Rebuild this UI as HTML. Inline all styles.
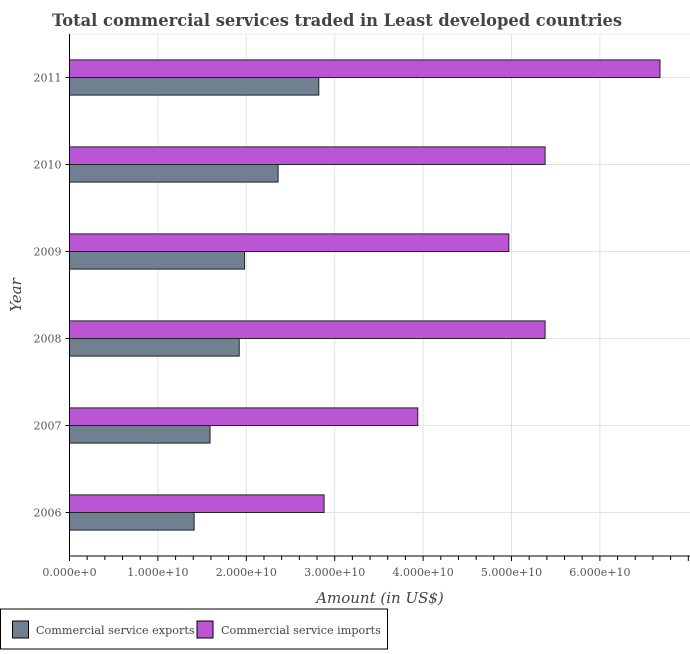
<!DOCTYPE html>
<html><head><meta charset="utf-8"><style>
body{margin:0;background:#fff;font-family:"DejaVu Serif","Liberation Serif",serif;}
svg text{font-family:"DejaVu Serif","Liberation Serif",serif;}
</style></head><body>
<svg id="chart" width="690" height="650">
<text x="52" y="26" font-size="16.3" font-weight="bold" fill="#444">Total commercial services traded in Least developed countries</text>
<g id="grid"></g><g id="bars"></g><g id="axes"></g>
<text x="0" y="0" transform="translate(21,295) rotate(-90)" text-anchor="middle" font-size="15" font-style="italic" fill="#444">Year</text>
<text x="380" y="603" text-anchor="middle" font-size="15" font-style="italic" fill="#444">Amount (in US$)</text>
<g>
<rect x="0.5" y="609" width="387" height="40" fill="#fff" stroke="#000"/>
<rect x="12.5" y="621" width="16" height="17" fill="#708090" stroke="#000"/>
<text x="36" y="634" font-size="11.2" fill="#444">Commercial service exports</text>
<rect x="197" y="621" width="16" height="17" fill="#ba55d3" stroke="#000"/>
<text x="221" y="634" font-size="11.2" fill="#444">Commercial service imports</text>
</g>
</svg>
<script>
const years=["2006","2007","2008","2009","2010","2011"];
const exportsVals=[1.41e10,1.59e10,1.92e10,1.98e10,2.36e10,2.82e10];
const importsVals=[2.88e10,3.94e10,5.38e10,4.97e10,5.38e10,6.68e10];
const xTicks=[0,1e10,2e10,3e10,4e10,5e10,6e10];
const xTickLabels=["0.000e+0","1.000e+10","2.000e+10","3.000e+10","4.000e+10","5.000e+10","6.000e+10"];
const NS="http://www.w3.org/2000/svg";
const X0=69.5,PX=88.4e-10,TOP=34,BOT=556,RIGHT=690;
function xs(v){return X0+v*PX;}
const band=(BOT-TOP)/years.length;
function ys(i){return BOT-band*(i+0.5);}
function mk(tag,a,p){const e=document.createElementNS(NS,tag);for(const k in a)e.setAttribute(k,a[k]);p.appendChild(e);return e;}
const grid=document.getElementById('grid'),bars=document.getElementById('bars'),axes=document.getElementById('axes');
xTicks.forEach((t,i)=>{
 const g=mk('line',{x1:xs(t),x2:xs(t),y1:TOP,y2:BOT,stroke:'#e2e2e2'},grid);
 
 
 const tl=mk('text',{x:xs(t),y:576,'text-anchor':'middle','font-size':'11','fill':'#555'},axes);
 tl.textContent=xTickLabels[i];
 
 
});
for(let v=0;xs(v)<=RIGHT;v+=2e9){
 const t=mk('line',{x1:xs(v),x2:xs(v),y1:BOT,y2:BOT+(Math.round(v/2e9)%5===0?5:4),stroke:'#000'},axes);
 
 
}
mk('line',{x1:X0,x2:RIGHT,y1:TOP,y2:TOP,stroke:'#eee'},grid);
years.forEach((y,i)=>{
 const cy=ys(i);
 const g=mk('line',{x1:X0,x2:RIGHT,y1:cy,y2:cy,stroke:'#e2e2e2'},grid);
 
 
 const bi=mk('rect',{x:X0,y:cy-17.6,width:xs(importsVals[i])-X0,height:17.6,fill:'#ba55d3',stroke:'#222','stroke-width':1},bars);
 
 
 const be=mk('rect',{x:X0,y:cy,width:xs(exportsVals[i])-X0,height:17.6,fill:'#708090',stroke:'#222','stroke-width':1},bars);
 
 
 const tk=mk('line',{x1:X0-4,x2:X0,y1:cy,y2:cy,stroke:'#000'},axes);
 
 
 const tl=mk('text',{x:X0-8,y:cy+4,'text-anchor':'end','font-size':'11','fill':'#555'},axes);
 tl.textContent=y;
 
 
});
const ya=mk('line',{x1:X0,x2:X0,y1:TOP,y2:BOT,stroke:'#000'},axes);


const xa=mk('line',{x1:X0,x2:RIGHT,y1:BOT,y2:BOT,stroke:'#000'},axes);


</script>
</body></html>
